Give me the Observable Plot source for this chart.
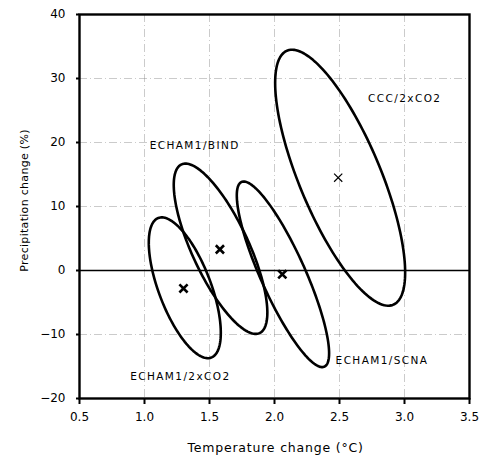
<!DOCTYPE html>
<html><head><meta charset="utf-8">
<script src="https://cdn.jsdelivr.net/npm/d3@7"></script>
<script src="https://cdn.jsdelivr.net/npm/@observablehq/plot@0.6"></script>
<style>
body{margin:0;background:#fff}
</style>
</head><body><div id="chart"></div>
<script>
// Model experiments: centre (mean) and spread of the ellipses
const models = ["ECHAM1/2xCO2", "ECHAM1/BIND", "ECHAM1/SCNA", "CCC/2xCO2"];
const centerTemp = [1.30, 1.58, 2.06, 2.49];
const centerPrecip = [-2.8, 3.3, -0.6, 14.5];
const ellipseCenterTemp = [1.31, 1.585, 2.065, 2.505];
const ellipseCenterPrecip = [-2.7, 3.4, -0.6, 14.5];
const spreadTemp = [0.277, 0.36, 0.355, 0.50];
const spreadPrecip = [11.0, 13.3, 14.5, 20.0];
const correlation = [-0.64, -0.75, -0.85, -0.74];
// label anchors (data units)
const labelTemp = [0.89, 1.04, 2.47, 2.72];
const labelPrecip = [-16.6, 19.5, -14.1, 26.9];
const xTicks = [0.5, 1.0, 1.5, 2.0, 2.5, 3.0, 3.5];
const yTicks = [-20, -10, 0, 10, 20, 30, 40];
const xTitle = "Temperature change (°C)";
const yTitle = "Precipitation change (%)";

const ellipsePts = [];
models.forEach((m, i) => {
  const n = 160, r = correlation[i], s = Math.sqrt(1 - r * r);
  for (let k = 0; k <= n; k++) {
    const t = 2 * Math.PI * k / n;
    ellipsePts.push({
      model: m,
      x: ellipseCenterTemp[i] + spreadTemp[i] * Math.cos(t),
      y: ellipseCenterPrecip[i] + spreadPrecip[i] * (r * Math.cos(t) + s * Math.sin(t))
    });
  }
});
const centers = models.map((m, i) => ({model: m, x: centerTemp[i], y: centerPrecip[i]}));
const labels = models.map((m, i) => ({model: m, x: labelTemp[i], y: labelPrecip[i]}));

const font = "'DejaVu Sans', sans-serif";
const chart = Plot.plot({
  width: 481, height: 456,
  marginLeft: 79, marginRight: 12, marginTop: 14, marginBottom: 58,
  style: {fontFamily: font, fontSize: "11px", color: "#000", background: "#fff"},
  x: {domain: [0.5, 3.5]},
  y: {domain: [-20, 40]},
  marks: [
    Plot.gridX(xTicks.slice(1, -1), {stroke: "#888", strokeOpacity: 0.55, strokeWidth: 0.8, strokeDasharray: "8,3,1,3"}),
    Plot.gridY(yTicks.slice(1, -1), {stroke: "#888", strokeOpacity: 0.55, strokeWidth: 0.8, strokeDasharray: "8,3,1,3"}),
    Plot.ruleY([0], {stroke: "#000", strokeWidth: 1.6}),
    Plot.line(ellipsePts, {x: "x", y: "y", z: "model", stroke: "#000", strokeWidth: 2.6}),
    Plot.dot(centers, {x: "x", y: "y", symbol: "times", r: 3.8, stroke: "#000",
      strokeWidth: d => d.model.startsWith("CCC") ? 1.2 : 2.6}),
    Plot.text(labels, {x: "x", y: "y", text: "model", textAnchor: "start", fontSize: 10.5, fill: "#000"}),
    Plot.frame({stroke: "#000", strokeWidth: 2.4}),
    Plot.axisX({ticks: xTicks, tickSize: 6, tickPadding: 8, tickFormat: d3.format(".1f"),
      label: null, fontSize: 12, strokeWidth: 2}),
    Plot.axisY({ticks: yTicks, tickSize: 3, tickPadding: 11, label: null, fontSize: 12, strokeWidth: 2}),
    Plot.text([xTitle], {frameAnchor: "bottom", dx: 1, dy: 53, fontSize: 12.5, fill: "#000"}),
    Plot.text([yTitle], {frameAnchor: "left", textAnchor: "middle", rotate: -90,
      dx: -55, dy: -6, fontSize: 11, fill: "#000"})
  ]
});
// letter spacing to match the spaced typewriter-like lettering
d3.select(chart).selectAll("text").each(function() {
  const t = this.textContent;
  if (models.includes(t)) this.setAttribute("letter-spacing", "1.4");
  else if (t === xTitle) this.setAttribute("letter-spacing", "0.8");
  else if (t === yTitle) this.setAttribute("letter-spacing", "0.3");
});
document.getElementById("chart").appendChild(chart);
</script>
</body></html>
